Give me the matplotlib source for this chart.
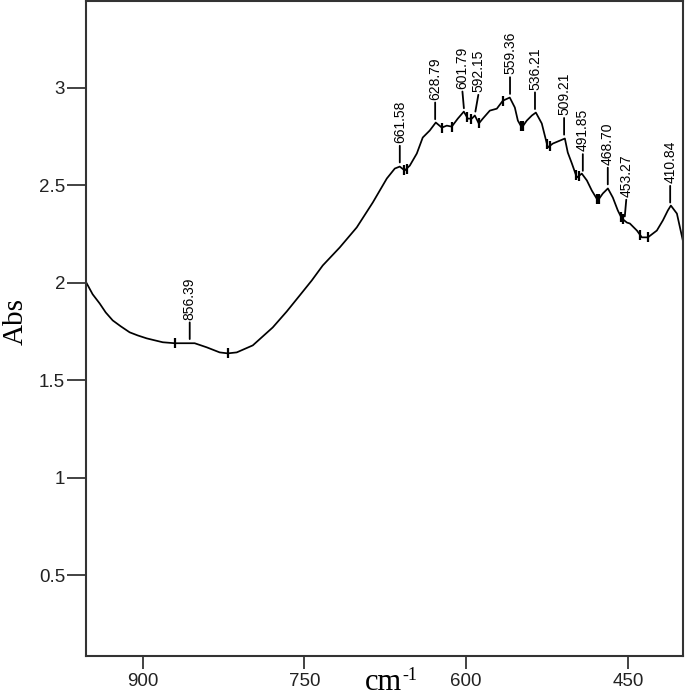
import numpy as np
import matplotlib
matplotlib.use("Agg")
import matplotlib.pyplot as plt

# ---- data ----
wavenumber = [951.9, 946.4, 939.9, 934.3, 927.8, 920.4, 912.1, 904.6, 896.3, 888.9,
              881.4, 870.3, 856.4, 851.8, 840.6,
              828.6, 821.1, 812.8, 797.9, 779.4, 766.4, 754.4, 743.2, 733.0, 717.3,
              701.5, 686.6, 673.6, 666.2, 661.6, 657.0, 652.3, 645.8, 640.3, 633.8,
              628.2, 622.6, 618.0, 613.4, 607.8, 602.2, 598.5, 594.8, 592.0, 588.3,
              584.6, 578.1, 571.6, 566.0, 559.6, 554.9, 552.1, 548.4, 543.8, 539.1,
              535.4, 529.9, 527.1, 524.3, 519.7, 513.2, 508.5, 505.8, 502.0, 497.4,
              492.8, 488.1, 483.5, 477.9, 473.3, 468.6, 464.0, 459.4, 455.7, 451.0,
              448.2, 441.7, 437.1, 431.5, 423.2, 417.6, 413.0, 410.2, 404.6, 399.1]
absorbance = [1.996, 1.940, 1.893, 1.847, 1.806, 1.776, 1.745, 1.729, 1.714, 1.704,
              1.694, 1.689, 1.689, 1.689, 1.668,
              1.642, 1.637, 1.642, 1.678, 1.770, 1.852, 1.934, 2.011, 2.088, 2.180,
              2.283, 2.411, 2.534, 2.585, 2.595, 2.575, 2.600, 2.662, 2.744, 2.780,
              2.821, 2.795, 2.805, 2.800, 2.841, 2.877, 2.841, 2.841, 2.857, 2.816,
              2.841, 2.882, 2.892, 2.933, 2.949, 2.898, 2.831, 2.795, 2.831, 2.857,
              2.872, 2.816, 2.754, 2.693, 2.713, 2.728, 2.739, 2.667, 2.611, 2.539,
              2.559, 2.524, 2.472, 2.421, 2.457, 2.483, 2.436, 2.370, 2.329, 2.308,
              2.303, 2.267, 2.232, 2.232, 2.267, 2.319, 2.370, 2.395, 2.354, 2.216]

peak_labels = ["856.39", "661.58", "628.79", "601.79", "592.15", "559.36",
               "536.21", "509.21", "491.85", "468.70", "453.27", "410.84"]
peak_positions = [856.39, 661.58, 628.79, 601.79, 592.15, 559.36,
                  536.21, 509.21, 491.85, 468.70, 453.27, 410.84]

baseline_marks = [870.3, 821.1, 657.9, 655.1, 622.6, 613.4, 599.4, 595.7,
                  588.3, 566.0, 549.4, 547.5, 525.2, 522.4, 498.3, 495.5,
                  478.9, 477.0, 456.6, 454.7, 438.9, 431.5]

x_ticks = [900, 750, 600, 450]
y_ticks = [0.5, 1, 1.5, 2, 2.5, 3]
y_tick_labels = ["0.5", "1", "1.5", "2", "2.5", "3"]

# ---- figure ----
fig = plt.figure(figsize=(6.85, 6.96), dpi=100)
ax = fig.add_axes([0.1255, 0.0575, 0.8715, 0.941])

wn = np.array(wavenumber)
ab = np.array(absorbance)
ax.plot(wn, ab, color="black", lw=1.25)

order = np.argsort(wn)
def curve_at(x):
    return np.interp(x, wn[order], ab[order])

# baseline markers
bm = np.array(baseline_marks)
ax.plot(bm, curve_at(bm), linestyle="none", marker="|", markersize=7,
        markeredgewidth=1.6, color="black")

# peak labels with leader lines
dx_map = {"601.79": -1.5, "592.15": 3.0, "453.27": 1.5}
for lab, pos in zip(peak_labels, peak_positions):
    dx = dx_map.get(lab, 0.0)
    ax.annotate(lab, xy=(pos, curve_at(pos)), xytext=(dx, 17),
                textcoords="offset points", rotation=90, ha="center",
                va="bottom", fontsize=10, family="Liberation Sans",
                arrowprops=dict(arrowstyle="-", lw=1.3, color="black",
                                shrinkA=0, shrinkB=3, relpos=(0.5, 0)))

ax.set_xlim(952.6, 399)
ax.set_ylim(0.085, 3.444)
ax.set_xticks(x_ticks)
ax.set_xticklabels([str(t) for t in x_ticks], family="Liberation Sans", fontsize=13.5)
ax.set_yticks(y_ticks)
ax.set_yticklabels(y_tick_labels, family="Liberation Sans", fontsize=13.5)
ax.tick_params(axis="y", direction="out", length=14, width=1.2, pad=1, colors="#222222")
ax.tick_params(axis="x", direction="out", length=9, width=1.2, pad=3, colors="#222222")
for s in ax.spines.values():
    s.set_linewidth(1.5)
    s.set_color("#333333")

ax.text(-0.117, 0.51, "Abs", transform=ax.transAxes, rotation=90,
        ha="center", va="center", family="Liberation Serif", fontsize=21)
ax.text(0.529, -0.052, "cm", transform=ax.transAxes, ha="right",
        va="baseline", family="Liberation Serif", fontsize=22)
ax.text(0.530, -0.037, "-1", transform=ax.transAxes, ha="left",
        va="baseline", family="Liberation Serif", fontsize=13)

fig.savefig("out.png", dpi=100)
